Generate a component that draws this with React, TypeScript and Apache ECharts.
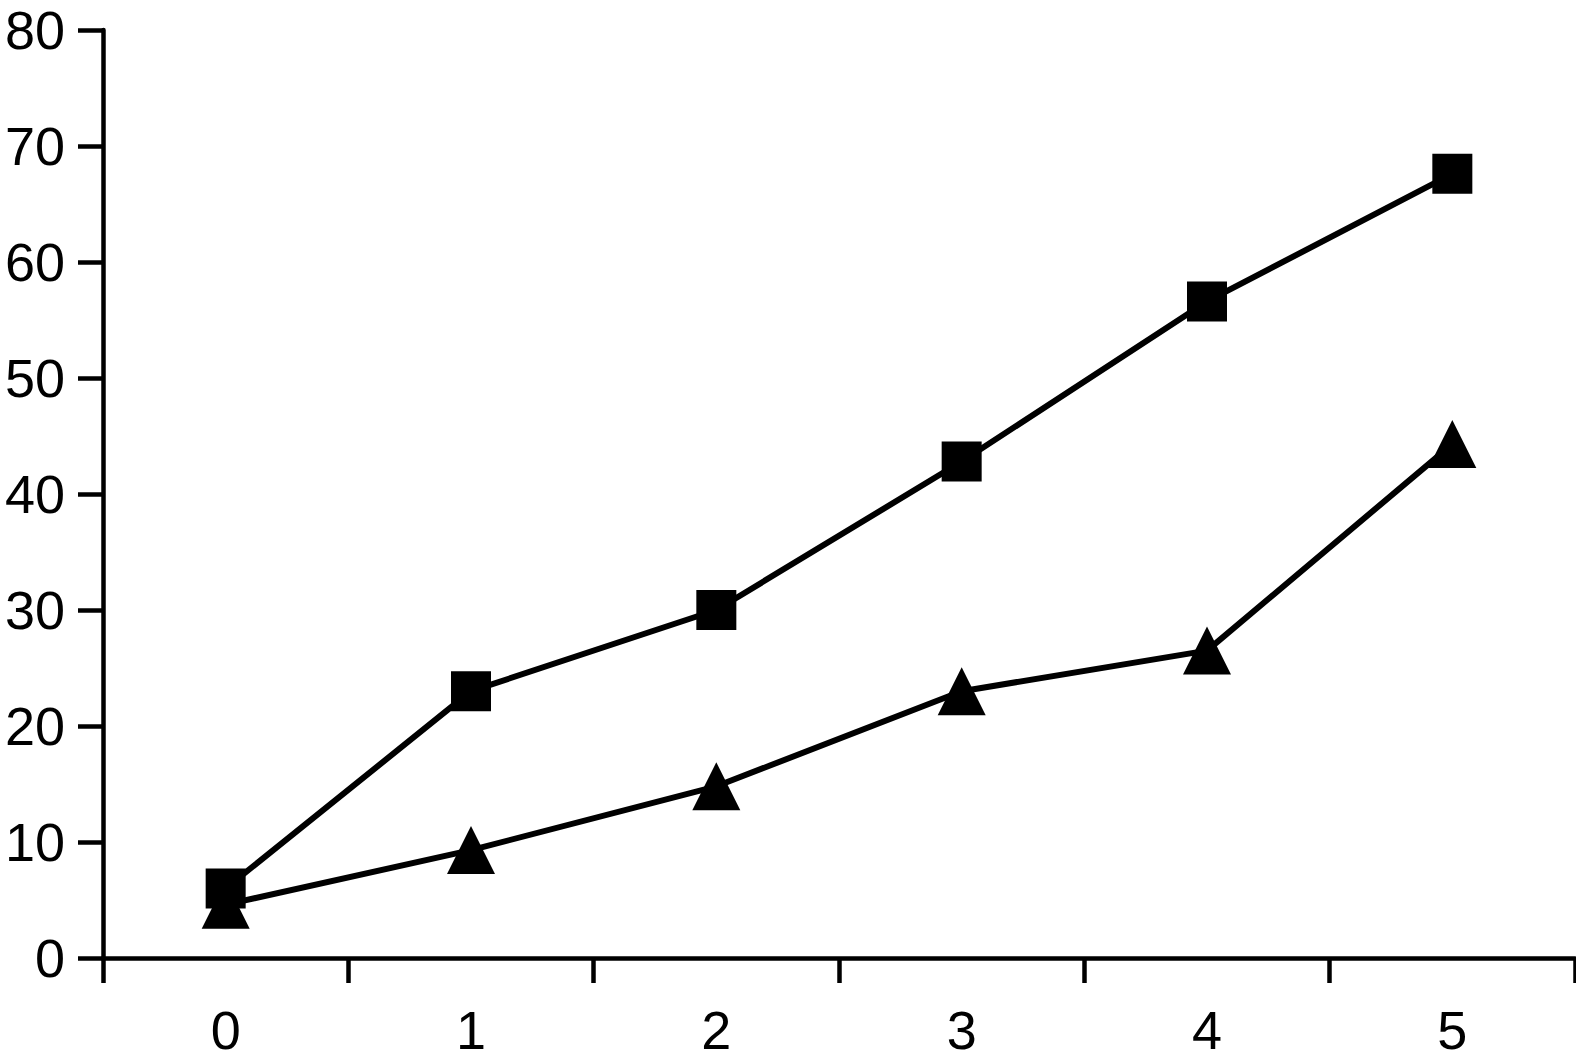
import React, { useEffect, useRef } from "react";
import * as echarts from "echarts";

const categories = ["0", "1", "2", "3", "4", "5"];
const squareSeries = [6.0, 23.0, 30.0, 42.8, 56.6, 67.6];
const triangleSeries = [4.6, 9.3, 14.8, 23.0, 26.5, 44.3];
const yTicks = { min: 0, max: 80, interval: 10 };

export default function App() {
  const ref = useRef<HTMLDivElement>(null);
  useEffect(() => {
    if (!ref.current) return;
    const chart = echarts.init(ref.current, undefined, { renderer: "svg" });
    const font = "'Liberation Sans', Arial, Helvetica, sans-serif";
    chart.setOption({
      animation: false,
      backgroundColor: "#ffffff",
      grid: { left: 103, right: 1, top: 30, bottom: 104, containLabel: false },
      xAxis: {
        type: "category",
        data: categories,
        boundaryGap: true,
        axisLine: { show: true, lineStyle: { color: "#000", width: 4.5 } },
        axisTick: { show: true, inside: false, length: 25, alignWithLabel: false, lineStyle: { color: "#000", width: 4.5 } },
        axisLabel: { color: "#000", fontSize: 54, lineHeight: 52, fontFamily: font, margin: 46 },
        splitLine: { show: false },
      },
      yAxis: {
        type: "value",
        min: yTicks.min,
        max: yTicks.max,
        interval: yTicks.interval,
        axisLine: { show: true, lineStyle: { color: "#000", width: 4.5 } },
        axisTick: { show: true, inside: false, length: 25, lineStyle: { color: "#000", width: 4.5 } },
        axisLabel: { color: "#000", fontSize: 54, fontFamily: font, margin: 38 },
        splitLine: { show: false },
      },
      series: [
        {
          type: "line",
          data: squareSeries,
          symbol: "rect",
          symbolSize: 40,
          lineStyle: { color: "#000", width: 6 },
          itemStyle: { color: "#000" },
          z: 3,
        },
        {
          type: "line",
          data: triangleSeries,
          symbol: "triangle",
          symbolSize: [48, 48],
          lineStyle: { color: "#000", width: 6 },
          itemStyle: { color: "#000" },
          z: 2,
        },
      ],
    });
    return () => chart.dispose();
  }, []);
  return (
    <div
      ref={ref}
      style={{ position: "fixed", left: 0, top: 0, width: 1576, height: 1062, background: "#fff" }}
    />
  );
}
